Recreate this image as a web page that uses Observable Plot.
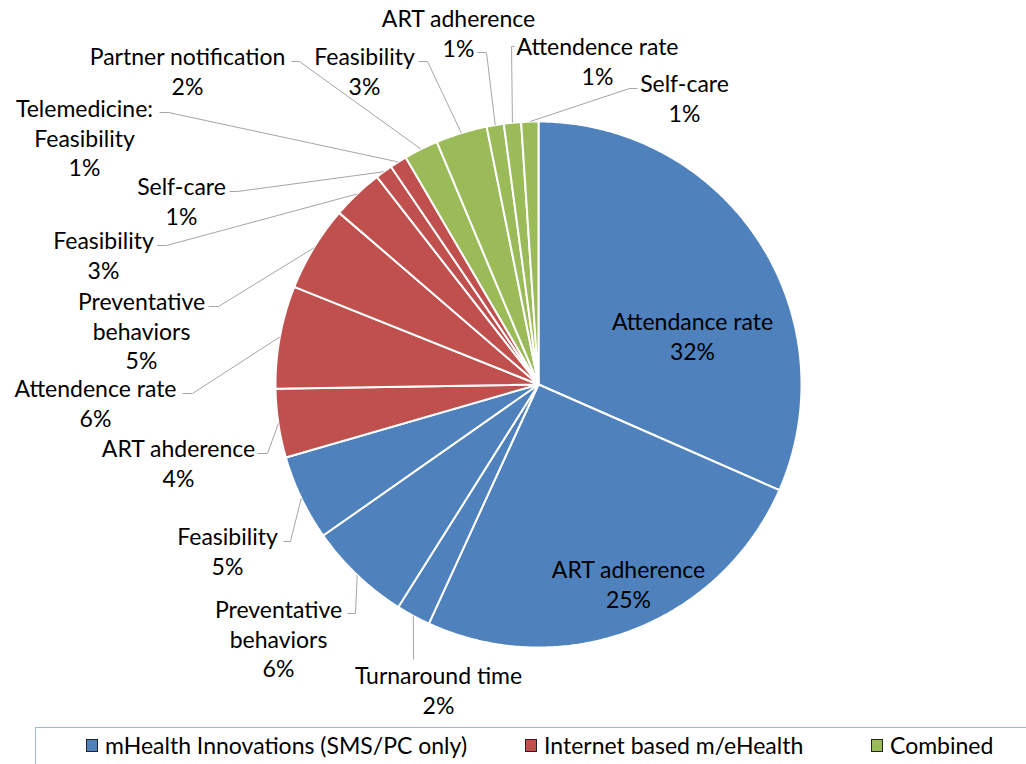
<!DOCTYPE html>
<html>
<head>
<meta charset="utf-8">
<script src="https://cdn.jsdelivr.net/npm/d3@7"></script>
<script src="https://cdn.jsdelivr.net/npm/@observablehq/plot@0.6"></script>
<style>
  html, body { margin: 0; padding: 0; background: #fff; }
  body { width: 1026px; height: 764px; overflow: hidden; position: relative; font-family: Lato, "Open Sans", sans-serif; }
  #chart { position: absolute; left: 0; top: 0; }
  #legend { position: absolute; left: 35px; top: 727px; width: 1100px; height: 60px; border: 1px solid #9db9d5; box-sizing: border-box; }
  .item { position: absolute; top: 731px; height: 28px; display: flex; align-items: center; font-size: 23px; color: #000; white-space: nowrap; }
  .sw { width: 10px; height: 11px; border: 1px solid #222; margin-right: 7px; }
</style>
</head>
<body>
<div id="chart"></div>
<div id="legend"></div>
<script>
// ---- data (clockwise from 12 o'clock) ----
const names = [
  "Attendance rate", "ART adherence", "Turnaround time", "Preventative\nbehaviors", "Feasibility",
  "ART ahderence", "Attendence rate", "Preventative\nbehaviors", "Feasibility", "Self-care", "Telemedicine:\nFeasibility",
  "Partner notification", "Feasibility", "ART adherence", "Attendence rate", "Self-care"
];
const groups = [
  "mHealth Innovations (SMS/PC only)", "mHealth Innovations (SMS/PC only)", "mHealth Innovations (SMS/PC only)", "mHealth Innovations (SMS/PC only)", "mHealth Innovations (SMS/PC only)",
  "Internet based m/eHealth", "Internet based m/eHealth", "Internet based m/eHealth", "Internet based m/eHealth", "Internet based m/eHealth", "Internet based m/eHealth",
  "Combined", "Combined", "Combined", "Combined", "Combined"
];
// estimated study counts (slice sizes)
const counts = [30, 24, 2, 6, 5, 4, 6, 5, 3, 1, 1, 2, 3, 1, 1, 1];
const groupNames = ["mHealth Innovations (SMS/PC only)", "Internet based m/eHealth", "Combined"];
const groupColors = ["#4f81bd", "#c0504d", "#9bbb59"];

// ---- layout (pixels of the frame) ----
const W = 1026, H = 722, CX = 538, CY = 384, R = 263;
// label block centre, and for outside labels: text-side point and elbow of leader line
const labelLayout = [
  {c: [692, 335]},
  {c: [628, 583]},
  {c: [438, 689], ts: [413, 659], el: [413, 659]},
  {c: [278, 638], ts: [347, 613], el: [355, 613]},
  {c: [227, 550], ts: [283, 541], el: [290, 541]},
  {c: [178, 462], ts: [257, 453], el: [267, 453]},
  {c: [95, 402],  ts: [182, 393], el: [192, 393]},
  {c: [141, 330], ts: [208, 306], el: [218, 306]},
  {c: [103, 254], ts: [157, 245], el: [166, 245]},
  {c: [181, 200], ts: [229, 191], el: [237, 191]},
  {c: [84, 137],  ts: [159, 112], el: [168, 112]},
  {c: [187, 70],  ts: [291, 61],  el: [299, 61]},
  {c: [364, 70],  ts: [418, 61],  el: [427, 61]},
  {c: [458, 32],  ts: [477, 52],  el: [486, 52]},
  {c: [597, 60],  ts: [514, 46],  el: [511, 46]},
  {c: [684, 97],  ts: [637, 88],  el: [629, 88]}
];
const ux = px => (px - CX) / R;
const uy = py => (CY - py) / R;

// ---- build slices ----
const total = d3.sum(counts);
let acc = 0;
const slices = names.map((n, i) => {
  const a0 = acc / total * 2 * Math.PI;
  acc += counts[i];
  const a1 = acc / total * 2 * Math.PI;
  return {i, name: n, group: groups[i], a0, a1, mid: (a0 + a1) / 2,
          pct: Math.round(counts[i] / total * 100) + "%"};
});
const piePts = [];
for (const s of slices) {
  piePts.push({i: s.i, group: s.group, x: 0, y: 0});
  const n = Math.max(2, Math.ceil((s.a1 - s.a0) / (Math.PI / 360)));
  for (let k = 0; k <= n; k++) {
    const a = s.a0 + (s.a1 - s.a0) * k / n;
    piePts.push({i: s.i, group: s.group, x: Math.sin(a), y: Math.cos(a)});
  }
}
const labels = slices.map(s => {
  const L = labelLayout[s.i];
  return {x: ux(L.c[0]), y: uy(L.c[1]), text: s.name + "\n" + s.pct};
});
const leaders = [];
for (const s of slices) {
  const L = labelLayout[s.i];
  if (!L.ts) continue;
  leaders.push({i: s.i, x: ux(L.ts[0]), y: uy(L.ts[1])});
  leaders.push({i: s.i, x: ux(L.el[0]), y: uy(L.el[1])});
  leaders.push({i: s.i, x: Math.sin(s.mid), y: Math.cos(s.mid)});
}

const chart = Plot.plot({
  width: W, height: H, margin: 0,
  style: {fontFamily: "Lato, 'Open Sans', sans-serif", background: "#fff"},
  x: {domain: [ux(0), ux(W)], axis: null},
  y: {domain: [uy(H), uy(0)], axis: null},
  color: {domain: groupNames, range: groupColors},
  marks: [
    Plot.line(piePts, {x: "x", y: "y", z: "i", fill: "group", stroke: "white", strokeWidth: 2, curve: "linear-closed", strokeLinejoin: "miter"}),
    Plot.line(leaders, {x: "x", y: "y", z: "i", stroke: "#a6a6a6", strokeWidth: 1, curve: "linear", strokeLinejoin: "miter", strokeLinecap: "butt"}),
    Plot.text(labels, {x: "x", y: "y", text: "text", fontSize: 23, lineHeight: 1.28, fill: "#000", textAnchor: "middle"})
  ]
});
document.getElementById("chart").appendChild(chart);

// ---- legend ----
const legendLeft = [86, 525, 871];
groupNames.forEach((g, k) => {
  const d = document.createElement("div");
  d.className = "item";
  d.style.left = legendLeft[k] + "px";
  d.innerHTML = `<span class="sw" style="background:${groupColors[k]}"></span><span>${g}</span>`;
  document.body.appendChild(d);
});
</script>
</body>
</html>
